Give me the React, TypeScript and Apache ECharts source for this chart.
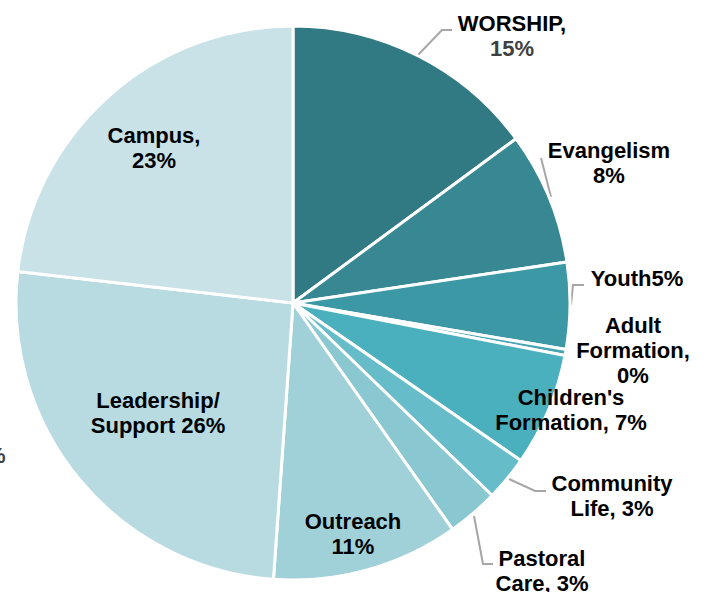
import React, { useEffect, useRef } from "react";
import * as echarts from "echarts";

const categories = [
  "WORSHIP",
  "Evangelism",
  "Youth",
  "Adult Formation",
  "Children's Formation",
  "Community Life",
  "Pastoral Care",
  "Outreach",
  "Leadership/ Support",
  "Campus",
];
// slice sizes as drawn (percent of the circle)
const sliceValues = [14.9, 7.75, 5.05, 0.35, 6.6, 2.6, 3.0, 10.9, 25.7, 23.2];
// label texts as printed on the chart
const labelTexts = [
  ["WORSHIP,", "15%"],
  ["Evangelism", "8%"],
  ["Youth5%"],
  ["Adult", "Formation,", "0%"],
  ["Children's", "Formation, 7%"],
  ["Community", "Life, 3%"],
  ["Pastoral", "Care, 3%"],
  ["Outreach", "11%"],
  ["Leadership/", "Support 26%"],
  ["Campus,", "23%"],
];

const colors = [
  "#317a84",
  "#378893",
  "#3d98a5",
  "#44a4b1",
  "#4bb0be",
  "#66bdc9",
  "#89c7d1",
  "#a0d0d8",
  "#b8dbe2",
  "#c8e2e8",
];

// label block centres (px)
const labelPos: [number, number][] = [
  [512, 36],
  [609, 163],
  [637, 278],
  [633, 350],
  [571, 410],
  [612, 496],
  [542, 571],
  [353, 534],
  [158, 413],
  [154, 148],
];
const leaderLines: ([number, number][] | null)[] = [
  [[417, 56], [442, 30], [452, 30]],
  [[551, 197], [541, 158], [541, 158]],
  [[571, 305], [573, 285], [584, 285]],
  null,
  null,
  [[509, 479], [535, 491], [546, 491]],
  [[474, 516], [483, 564], [493, 564]],
  null,
  null,
  null,
];

const FONT = "'Liberation Sans', Arial, sans-serif";

export default function App() {
  const ref = useRef<HTMLDivElement>(null);
  useEffect(() => {
    if (!ref.current) return;
    const chart = echarts.init(ref.current, undefined, { renderer: "svg" });
    const data = categories.map((name, i) => ({
      name,
      value: sliceValues[i],
      itemStyle: { color: colors[i] },
      labelLine: { show: leaderLines[i] !== null },
    }));
    chart.setOption({
      animation: false,
      backgroundColor: "#ffffff",
      textStyle: { fontFamily: FONT },
      graphic: [
        {
          type: "text",
          left: -14,
          top: 444,
          style: {
            text: "%",
            fontFamily: FONT,
            fontWeight: "bold",
            fontSize: 22,
            fill: "#404040",
          },
        },
      ],
      series: [
        {
          type: "pie",
          center: [293, 303],
          radius: [0, 277],
          startAngle: 90,
          clockwise: true,
          avoidLabelOverlap: false,
          data,
          itemStyle: { borderColor: "#ffffff", borderWidth: 3 },
          label: {
            show: true,
            position: "outside",
            fontFamily: FONT,
            fontWeight: "bold",
            fontSize: 22,
            lineHeight: 25,
            color: "#000000",
            align: "center",
            formatter: (p: any) => {
              const lines = labelTexts[p.dataIndex];
              if (p.dataIndex === 0) {
                return `{a|${lines[0]}}\n{g|${lines[1]}}`;
              }
              return lines.map((l) => `{a|${l}}`).join("\n");
            },
            rich: {
              a: {
                fontFamily: FONT,
                fontWeight: "bold",
                fontSize: 22,
                lineHeight: 25,
                color: "#000000",
                align: "center",
              },
              g: {
                fontFamily: FONT,
                fontWeight: "bold",
                fontSize: 22,
                lineHeight: 25,
                color: "#404040",
                align: "center",
              },
            },
          },
          labelLine: {
            show: true,
            lineStyle: { color: "#a6a6a6", width: 2 },
          },
          labelLayout: (params: any) => {
            const i = params.dataIndex;
            const pos = labelPos[i];
            const res: any = {
              x: pos[0],
              y: pos[1],
              align: "center",
              verticalAlign: "middle",
            };
            if (leaderLines[i]) res.labelLinePoints = leaderLines[i];
            return res;
          },
        },
      ],
    });
    return () => chart.dispose();
  }, []);
  return (
    <div
      ref={ref}
      style={{ position: "fixed", left: 0, top: 0, width: 710, height: 592 }}
    />
  );
}
